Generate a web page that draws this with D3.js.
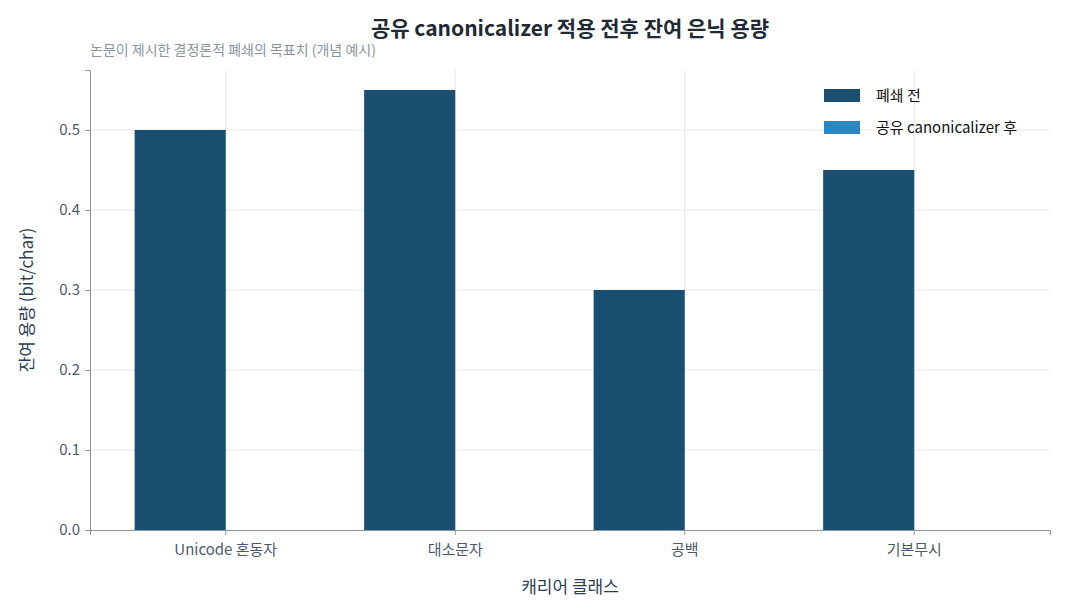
<!DOCTYPE html>
<html><head><meta charset="utf-8">
<script src="https://cdn.jsdelivr.net/npm/d3@7"></script>
<style>body{margin:0;background:#fff;font-family:"Noto Sans CJK KR","Noto Sans",sans-serif;}</style>
</head><body>
<svg id="chart" width="1065" height="615"></svg>
<script>
var categories = ["Unicode 혼동자", "대소문자", "공백", "기본무시"];
var beforeValues = [0.50, 0.55, 0.30, 0.45];
var afterValues = [0, 0, 0, 0];
var seriesNames = ["폐쇄 전", "공유 canonicalizer 후"];
var yTicks = [0, 0.1, 0.2, 0.3, 0.4, 0.5];

var svg = d3.select("#chart");
var mLeft = 90, mRight = 1050, mTop = 70, mBottom = 530;
var colors = ["#1b4f72", "#2e86c1"];

var x = d3.scaleBand().domain(categories).range([mLeft, mRight]).paddingOuter(0.0915).paddingInner(0);
var y = d3.scaleLinear().domain([0, 0.575]).range([mBottom, mTop]);
var bw = x.bandwidth() * 0.397;

// grid
svg.append("g").selectAll("line").data(yTicks.slice(1)).join("line")
  .attr("x1", mLeft).attr("x2", mRight)
  .attr("y1", d => y(d)).attr("y2", d => y(d))
  .attr("stroke", "#e5e8eb");
svg.append("g").selectAll("line").data(categories).join("line")
  .attr("x1", d => x(d) + x.bandwidth() / 2).attr("x2", d => x(d) + x.bandwidth() / 2)
  .attr("y1", mTop).attr("y2", mBottom)
  .attr("stroke", "#e5e8eb");

// bars
var series = [beforeValues, afterValues];
series.forEach(function (vals, s) {
  svg.append("g").selectAll("rect").data(categories).join("rect")
    .attr("x", (d, i) => x(d) + x.bandwidth() / 2 - bw + s * bw)
    .attr("width", bw)
    .attr("y", (d, i) => y(vals[i]))
    .attr("height", (d, i) => y(0) - y(vals[i]))
    .attr("fill", colors[s]);
});

// axes
var yAxis = svg.append("g").attr("transform", "translate(" + mLeft + ",0)")
  .call(d3.axisLeft(y).tickValues(yTicks).tickFormat(d3.format(".1f")).tickSize(5));
var xAxis = svg.append("g").attr("transform", "translate(0," + mBottom + ")")
  .call(d3.axisBottom(x).tickSize(5));
[yAxis, xAxis].forEach(function (a) {
  a.select(".domain").attr("stroke", "#8a979e");
  a.selectAll(".tick line").attr("stroke", "#8a979e");
  a.selectAll("text").attr("fill", "#4a5a6a").style("font-family", "Noto Sans CJK KR").style("font-size", "15px");
});
yAxis.selectAll("text").attr("dx", "-2");
xAxis.selectAll("text").attr("dy", "1.1em");

// titles
svg.append("text").attr("x", 570).attr("y", 36).attr("text-anchor", "middle")
  .style("font-size", "21px").style("font-weight", "bold").attr("fill", "#1f2a33")
  .text("공유 canonicalizer 적용 전후 잔여 은닉 용량");
svg.append("text").attr("x", mLeft).attr("y", 55)
  .style("font-size", "14px").attr("fill", "#8a959e")
  .text("논문이 제시한 결정론적 폐쇄의 목표치 (개념 예시)");
svg.append("text").attr("x", 570).attr("y", 593).attr("text-anchor", "middle")
  .style("font-size", "17px").attr("fill", "#2c3e50").text("캐리어 클래스");
svg.append("text").attr("transform", "translate(33," + ((mTop + mBottom) / 2) + ") rotate(-90)")
  .attr("text-anchor", "middle").style("font-size", "17px").attr("fill", "#2c3e50")
  .text("잔여 용량 (bit/char)");

// legend
var lg = svg.append("g").selectAll("g").data(seriesNames).join("g")
  .attr("transform", (d, i) => "translate(824," + (89 + i * 32) + ")");
lg.append("rect").attr("width", 36).attr("height", 13).attr("fill", (d, i) => colors[i]);
lg.append("text").attr("x", 52).attr("y", 12).style("font-size", "15px").attr("fill", "#111").text(d => d);
</script>
</body></html>
